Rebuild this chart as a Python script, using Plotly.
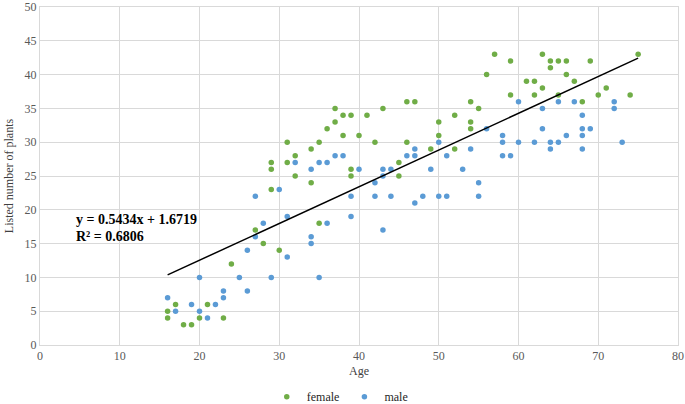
import plotly.graph_objects as go

female_age = [16,16,17,18,19,20,21,23,24,27,28,29,30,29,29,31,31,32,32,34,34,35,35,36,37,37,38,38,39,39,39,40,41,42,43,45,45,46,46,47,49,50,50,52,52,54,54,54,55,56,57,59,59,61,62,62,63,63,64,64,65,65,66,66,67,68,69,70,71,74,75]
female_plants = [5,4,6,3,3,4,6,4,12,17,15,23,14,27,26,30,27,28,25,29,24,30,18,32,35,33,34,31,34,26,25,31,34,30,35,27,25,36,30,36,29,33,31,34,29,36,33,32,35,40,43,42,37,39,39,37,43,38,42,41,42,37,42,40,39,36,42,37,38,37,43]

male_age = [16,17,19,20,20,21,22,23,23,25,26,26,27,27,28,29,30,31,31,32,34,34,34,35,35,36,36,37,38,39,39,40,42,42,43,43,43,44,44,46,47,47,47,48,49,50,50,51,51,53,54,55,55,56,58,58,58,59,60,60,62,63,63,64,64,65,65,66,67,68,68,68,68,69,72,72,73]
male_plants = [7,5,6,10,5,4,6,7,8,10,8,14,16,22,18,10,23,19,13,27,26,16,15,27,10,27,18,28,28,22,19,26,24,22,26,25,17,26,22,28,29,28,21,22,26,30,22,28,22,26,29,24,22,32,31,30,28,28,36,30,30,35,32,30,29,36,30,31,36,34,32,31,29,32,36,35,30]

slope = 0.5434
intercept = 1.6719
r_squared = 0.6806

x_ticks = [0, 10, 20, 30, 40, 50, 60, 70, 80]
y_ticks = [0, 5, 10, 15, 20, 25, 30, 35, 40, 45, 50]

all_age = female_age + male_age
x0, x1 = min(all_age), max(all_age)

GREEN = "#70AD47"
BLUE = "#5B9BD5"
GRID = "#D9D9D9"
FONT = "Liberation Serif, Times New Roman, serif"

fig = go.Figure()
fig.add_trace(go.Scatter(x=female_age, y=female_plants, mode="markers", name="female",
                         marker=dict(color=GREEN, size=5.5)))
fig.add_trace(go.Scatter(x=male_age, y=male_plants, mode="markers", name="male",
                         marker=dict(color=BLUE, size=5.5)))
fig.add_trace(go.Scatter(x=[x0, x1], y=[slope * x0 + intercept, slope * x1 + intercept],
                         mode="lines", line=dict(color="black", width=1.5),
                         showlegend=False, hoverinfo="skip"))

fig.add_annotation(x=4.25, y=18.5, xref="x", yref="y", xanchor="left", yanchor="middle",
                   text=f"<b>y = {slope}x + {intercept}</b>", showarrow=False,
                   font=dict(family=FONT, size=14, color="black"))
fig.add_annotation(x=4.25, y=16.0, xref="x", yref="y", xanchor="left", yanchor="middle",
                   text=f"<b>R² = {r_squared}</b>", showarrow=False,
                   font=dict(family=FONT, size=14, color="black"))

fig.update_layout(
    width=685, height=404,
    margin=dict(l=40, r=7, t=7, b=59, autoexpand=False),
    paper_bgcolor="white", plot_bgcolor="white",
    font=dict(family=FONT, size=12, color="#404040"),
    legend=dict(orientation="h", xref="container", yref="container", x=0.496, y=0.018,
                xanchor="center", yanchor="middle",
                font=dict(family=FONT, size=12, color="#262626"),
                itemwidth=30, tracegroupgap=0),
    xaxis=dict(range=[0, 80], tickvals=x_ticks, showgrid=True, gridcolor=GRID,
               zeroline=False, showline=True, linecolor=GRID, mirror=True,
               tickfont=dict(family=FONT, size=12, color="#595959"),
               title=dict(text="Age", font=dict(family=FONT, size=12, color="#404040"), standoff=4)),
    yaxis=dict(range=[0, 50], tickvals=y_ticks, showgrid=True, gridcolor=GRID,
               zeroline=False, showline=True, linecolor=GRID, mirror=True,
               tickfont=dict(family=FONT, size=12, color="#595959"),
               title=dict(text="Listed number of plants", font=dict(family=FONT, size=12, color="#404040"), standoff=8)),
)

fig.write_html("out.html", config={"displayModeBar": False},
               post_script="document.body.style.margin='0';")
